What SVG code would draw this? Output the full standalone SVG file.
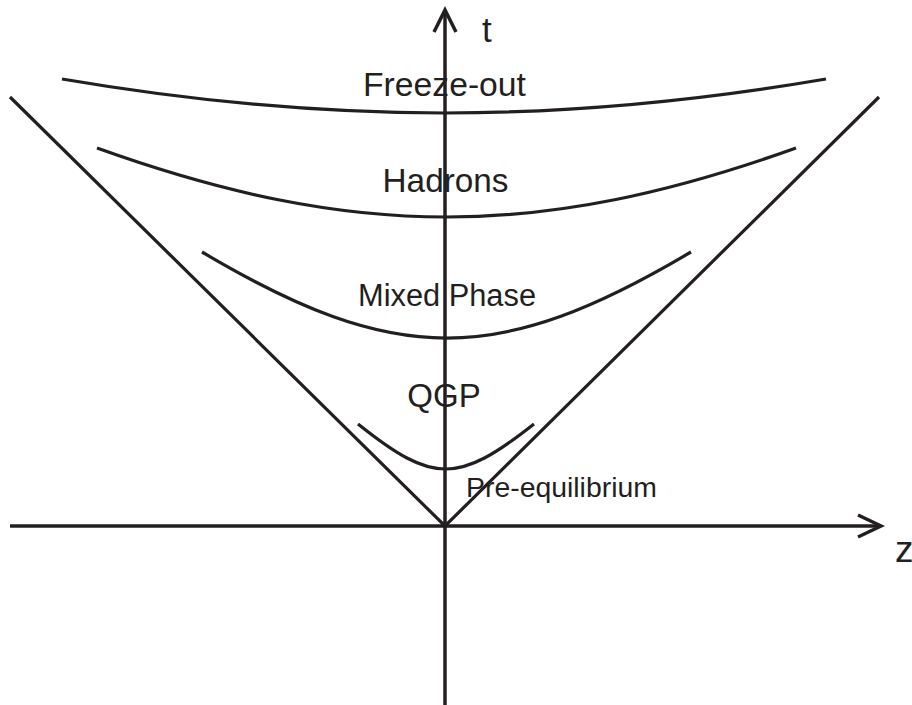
<svg xmlns="http://www.w3.org/2000/svg" width="912" height="705" viewBox="0 0 912 705">
<style>
.ln{fill:none;stroke:#231f20;stroke-width:3.2;stroke-linecap:butt;stroke-linejoin:miter}
.ax{fill:none;stroke:#231f20;stroke-width:3.5;stroke-linecap:butt;stroke-linejoin:miter}
.tx{font-family:"Liberation Sans",Arial,sans-serif;fill:#231f20}
</style>
<rect width="912" height="705" fill="#ffffff"/>
<g id="axes">
<path class="ax" d="M445,10 L445,705"/>
<path class="ax" d="M434,32 L445,10 L456,32"/>
<path class="ax" d="M10,526 L880,526"/>
<path class="ax" d="M858,515 L881,526 L858,537"/>
<text class="tx" x="482" y="42" font-size="35">t</text>
<text class="tx" x="895" y="562" font-size="37">z</text>
</g>
<g id="lightcone">
<path class="ln" d="M10,97 L445,526 L879,97"/>
</g>
<g id="freeze-out">
<path class="ln" d="M62,79 C326.8,124.3 561.2,124.3 826,79"/>
<text class="tx" x="444.5" y="96" font-size="33.7" text-anchor="middle">Freeze-out</text>
</g>
<g id="hadrons">
<path class="ln" d="M97,148 C353.4,240 539.6,240 796,148"/>
<text class="tx" x="445.5" y="192" font-size="33.3" text-anchor="middle">Hadrons</text>
</g>
<g id="mixed-phase">
<path class="ln" d="M202,252 C395.3,366.7 497.7,366.7 691,252"/>
<text class="tx" x="447" y="306" font-size="30.8" text-anchor="middle">Mixed Phase</text>
</g>
<g id="qgp">
<path class="ln" d="M358,424 C433,484 458,484 534,424"/>
<text class="tx" x="444" y="407" font-size="33" text-anchor="middle">QGP</text>
</g>
<g id="pre-equilibrium">
<text class="tx" x="466" y="497" font-size="28.4">Pre-equilibrium</text>
</g>
</svg>
